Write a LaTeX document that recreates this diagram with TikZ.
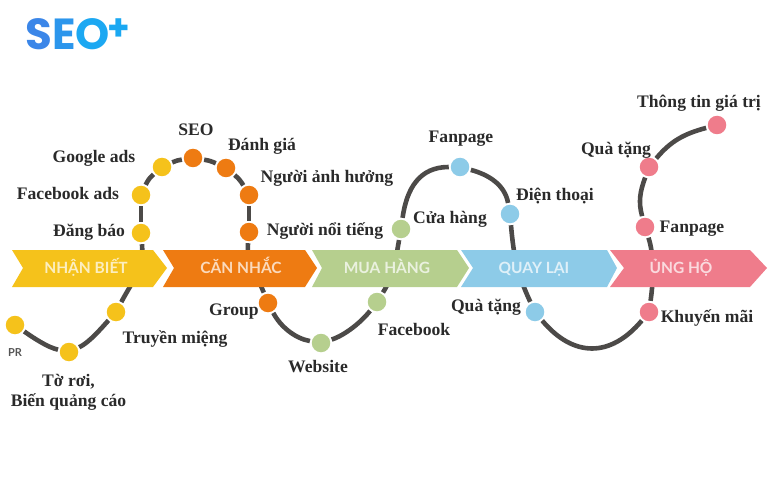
\documentclass[tikz,border=0pt]{standalone}
\usepackage{fontspec}
\setmainfont{Liberation Serif}
\setsansfont{Lato}
\newfontfamily\logofont{Poppins}
\definecolor{cyellow}{HTML}{F5C21B}
\definecolor{corange}{HTML}{EE7B12}
\definecolor{cgreen}{HTML}{B6CF8E}
\definecolor{cblue}{HTML}{8DCBE8}
\definecolor{cpink}{HTML}{EF7C8B}
\definecolor{ctrack}{HTML}{4C4A48}
\definecolor{clabel}{HTML}{2A2A2A}
\definecolor{clogo}{HTML}{1AA8F2}
\tikzset{
  dot/.style={circle,minimum size=18.5pt,inner sep=0pt,outer sep=2pt},
  track/.style={draw=ctrack,line width=4.6pt},
  lab/.style={text=clabel,font=\bfseries\fontsize{17.6}{20}\selectfont,align=center,inner sep=0pt},
  bannertext/.style={text=white,opacity=.72,anchor=base,font=\sffamily\bfseries\fontsize{15.5}{18}\selectfont,inner sep=0pt}
}
\begin{document}
\begin{tikzpicture}[x=1pt,y=1pt]
  \useasboundingbox (0,0) rectangle (768,480);
  % the logo
  \node[inner sep=0pt,font=\logofont\bfseries\fontsize{43.5}{44}\selectfont] (logo) at (67.5,445.5)
    {\textcolor[HTML]{3B86E8}{S}\textcolor[HTML]{2C96EC}{E}\textcolor[HTML]{1CA8F2}{O}};
  \node[inner sep=0pt,text=clogo,font=\logofont\bfseries\fontsize{36}{36}\selectfont] (plus) at (118.5,450) {+};
  %% the stops
  \foreach \name/\x/\y/\col in {pr/15/155/cyellow,toroi/69/128/cyellow,truyen/116/168/cyellow,
    dangbao/141/247/cyellow,fbads/141/285/cyellow,gads/162/313/cyellow,
    seo/193/322/corange,danhgia/226/312/corange,anhhuong/249/285/corange,noitieng/249/248/corange,group/268/177/corange,
    web/321/137/cgreen,fbook/377/178/cgreen,cuahang/401/251/cgreen,
    fanpage/460/313/cblue,dienthoai/510/266/cblue,quatang/535/168/cblue,
    khuyenmai/649/168/cpink,fanpagetwo/645/253/cpink,quatangtwo/649/313/cpink,thongtin/717/355/cpink}
  {
    \node[dot,fill=\col] (\name) at (\x,\y) {};
  }
  %% the track
  \path[track] (pr) to[out=-35,in=168,looseness=.7] (toroi);
  \path[track] (toroi) to[out=25,in=228,looseness=.7] (truyen);
  \path[track] (truyen) to[out=62,in=-85] (dangbao);
  \path[track] (dangbao) -- (fbads);
  \path[track] (fbads) to[bend left=12] (gads);
  \path[track] (gads) to[bend left=8] (seo);
  \path[track] (seo) to[bend left=8] (danhgia);
  \path[track] (danhgia) to[bend left=10] (anhhuong);
  \path[track] (anhhuong) -- (noitieng);
  \path[track] (noitieng) to[out=-95,in=112] (group);
  \path[track] (group) to[out=-62,in=170,looseness=.85] (web);
  \path[track] (web) to[out=18,in=232,looseness=.75] (fbook);
  \path[track] (fbook) to[out=58,in=-100] (cuahang);
  \path[track] (cuahang) to[out=82,in=180,looseness=1.1] (fanpage);
  \path[track] (fanpage) to[out=-15,in=100,looseness=.95] (dienthoai);
  \path[track] (dienthoai) to[out=-85,in=115] (quatang);
  \path[track] (quatang) to[out=-50,in=-130,looseness=1.25] (khuyenmai);
  \path[track] (khuyenmai) to[out=82,in=-72,looseness=.8] (fanpagetwo);
  \path[track] (fanpagetwo) to[out=105,in=-110] (quatangtwo);
  \path[track] (quatangtwo) to[out=50,in=195] (thongtin);
  %% the banners
  \fill[cyellow] (12,230) -- (153,230) -- (167,212) -- (153,193) -- (12,193) -- (23,212) -- cycle;
  \fill[corange] (163,230) -- (305,230) -- (317,212) -- (305,193) -- (163,193) -- (174,212) -- cycle;
  \fill[cgreen] (312,230) -- (457,230) -- (469,212) -- (457,193) -- (312,193) -- (322,212) -- cycle;
  \fill[cblue] (461,230) -- (607,230) -- (617,212) -- (607,193) -- (461,193) -- (473,212) -- cycle;
  \fill[cpink] (610,230) -- (750,230) -- (767,212) -- (750,193) -- (610,193) -- (624,212) -- cycle;
  \node[bannertext] (nhanbiet) at (86,206.5) {NHẬN BIẾT};
  \node[bannertext] (cannhac) at (241,206.5) {CĂN NHẮC};
  \node[bannertext] (muahang) at (387,206.5) {MUA HÀNG};
  \node[bannertext] (quaylai) at (534,206.5) {QUAY LẠI};
  \node[bannertext] (ungho) at (681,206.5) {ỦNG HỘ};
  %% the labels
  \node[lab] (lseo) at (196,350) {SEO};
  \node[lab] (ldanhgia) at (262,334) {Đánh giá};
  \node[lab] (lanhhuong) at (327,302) {Người ảnh hưởng};
  \node[lab] (lnoitieng) at (325,249) {Người nổi tiếng};
  \node[lab] (lgads) at (94,322) {Google ads};
  \node[lab] (lfbads) at (68,287) {Facebook ads};
  \node[lab] (ldangbao) at (89,248) {Đăng báo};
  \node[inner sep=0pt,text=clabel!80,font=\sffamily\bfseries\fontsize{11}{12}\selectfont] (lpr) at (15,127) {PR};
  \node[lab] (ltoroi) at (68.5,88) {Tờ rơi,\\Biến quảng cáo};
  \node[lab] (ltruyen) at (175,141) {Truyền miệng};
  \node[lab] (lgroup) at (234,168) {Group};
  \node[lab] (lweb) at (318,113) {Website};
  \node[lab] (lfbook) at (414,151) {Facebook};
  \node[lab] (lcuahang) at (450,261) {Cửa hàng};
  \node[lab] (lfanpage) at (461,341) {Fanpage};
  \node[lab] (ldienthoai) at (555,284) {Điện thoại};
  \node[lab] (lquatang) at (486,173) {Quà tặng};
  \node[lab] (lkhuyenmai) at (707,162) {Khuyến mãi};
  \node[lab] (lfanpagetwo) at (692,251) {Fanpage};
  \node[lab] (lquatangtwo) at (616,330) {Quà tặng};
  \node[lab] (lthongtin) at (699,377) {Thông tin giá trị};
\end{tikzpicture}
\end{document}
